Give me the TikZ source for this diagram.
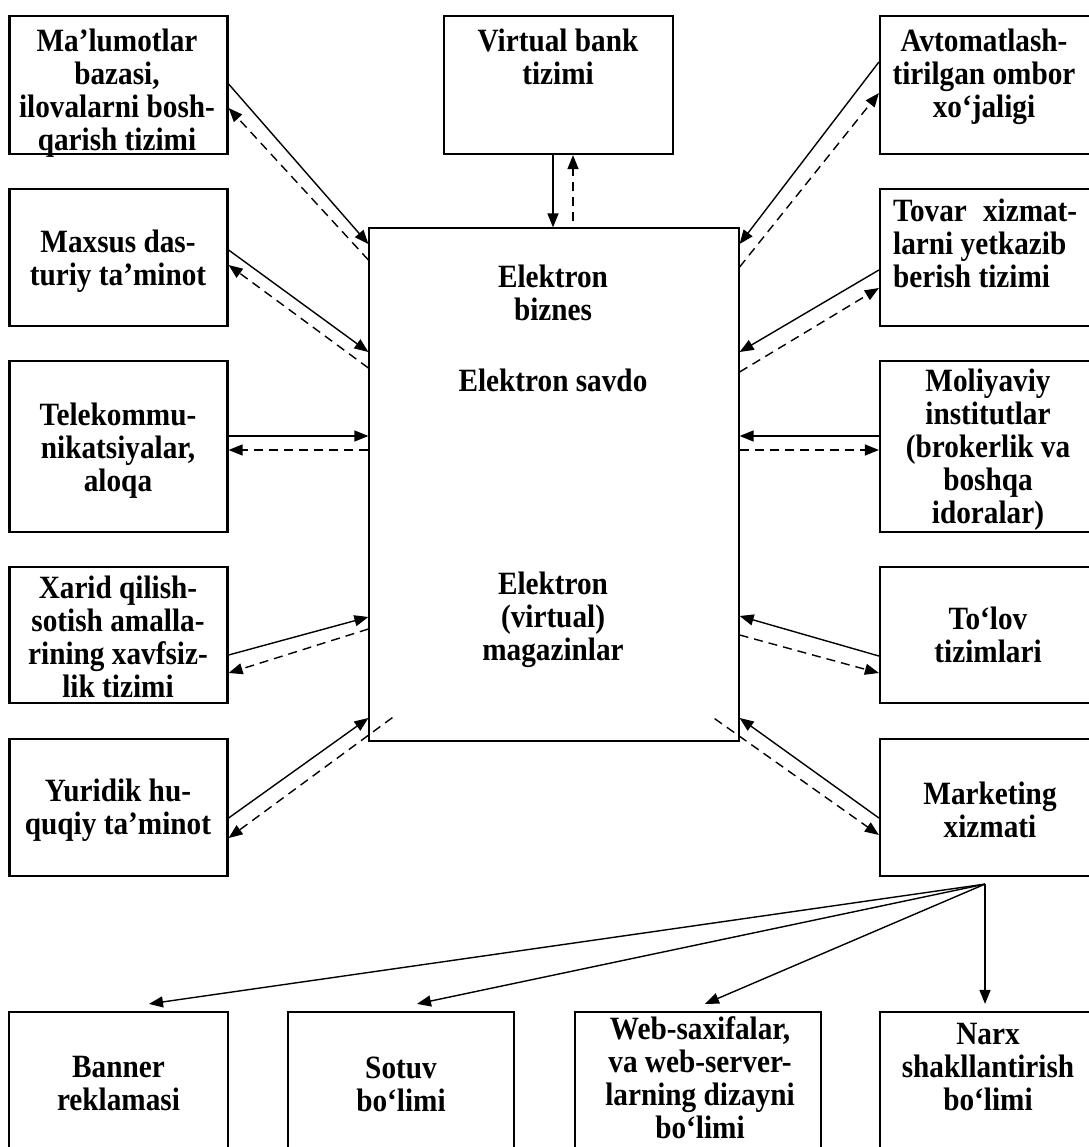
\documentclass[tikz,border=0pt]{standalone}
\usepackage{fontspec}
\setmainfont{Liberation Serif}[FakeStretch=0.9]
\usetikzlibrary{arrows.meta}

% box: name, centre x, centre y, width, height
\newcommand\mkbox[5]{\node[box, minimum width=#4pt, minimum height=#5pt] (#1) at (#2,#3) {};}

\begin{document}
\begin{tikzpicture}[x=1pt, y=-1pt,
  lbl/.style={font=\fontsize{32.5}{33}\selectfont\bfseries, align=center, inner sep=0pt},
  box/.style={draw, line width=2.2pt, inner sep=0pt},
  fwd/.style={line width=1.4pt, -{Triangle[length=14pt,width=11pt]}},
  back/.style={fwd, dash pattern=on 9pt off 6pt}]
\useasboundingbox (0,0) rectangle (1088,1147);

% left column
\mkbox{L1}{118.5}{85}{218}{138}
\mkbox{L2}{118.5}{257.5}{218}{137}
\mkbox{L3}{118.5}{446.5}{218}{171}
\mkbox{L4}{118.5}{635}{218}{136}
\mkbox{L5}{118.5}{807.5}{218}{137}
% right column
\mkbox{R1}{989}{85}{218}{138}
\mkbox{R2}{989}{257.5}{218}{137}
\mkbox{R3}{989}{446.5}{218}{171}
\mkbox{R4}{989}{635}{218}{136}
\mkbox{R5}{989}{807.5}{218}{137}
% top and centre
\mkbox{V}{558.5}{85}{229}{138}
\node[box, line width=1.2pt, minimum width=370pt, minimum height=513pt] (C) at (554,484.5) {};
% bottom row
\mkbox{B1}{118.5}{1084}{219}{144}
\mkbox{B2}{401}{1084}{226}{144}
\mkbox{B3}{698}{1084}{246}{144}
\mkbox{B4}{989}{1084}{218}{144}

% labels
\node[lbl] (tL1) at (117,93) {Ma’lumotlar\\bazasi,\\ilovalarni bosh-\\qarish tizimi};
\node[lbl] (tL2) at (118,261) {Maxsus das-\\turiy ta’minot};
\node[lbl] (tL3) at (118,451) {Telekommu-\\nikatsiyalar,\\aloqa};
\node[lbl] (tL4) at (118,637) {Xarid qilish-\\sotish amalla-\\rining xavfsiz-\\lik tizimi};
\node[lbl] (tL5) at (118,810) {Yuridik hu-\\quqiy ta’minot};
\node[lbl] (tV) at (558,57) {Virtual bank\\tizimi};
\node[lbl] (tC1) at (553,293) {Elektron\\biznes};
\node[lbl] (tC2) at (553,380) {Elektron savdo};
\node[lbl] (tC3) at (553,620) {Elektron\\(virtual)\\magazinlar};
\node[lbl] (tR1) at (984,77) {Avtomatlash-\\tirilgan ombor\\xo‘jaligi};
\node[lbl, align=left, anchor=west] (tR2) at (893,243) {\hbox to 184pt{Tovar\hfill xizmat-}\\larni yetkazib\\berish tizimi};
\node[lbl] (tR3) at (988,450) {Moliyaviy\\institutlar\\(brokerlik va\\boshqa\\idoralar)};
\node[lbl] (tR4) at (988,635) {To‘lov\\tizimlari};
\node[lbl] (tR5) at (990,810) {Marketing\\xizmati};
\node[lbl] (tB1) at (118.5,1084) {Banner\\reklamasi};
\node[lbl] (tB2) at (401,1084) {Sotuv\\bo‘limi};
\node[lbl] (tB3) at (700,1078) {Web-saxifalar,\\va web-server-\\larning dizayni\\bo‘limi};
\node[lbl] (tB4) at (988,1067) {Narx\\shakllantirish\\bo‘limi};

% left links
\draw[fwd]  ([yshift=1pt]L1.east) -- ([yshift=240.5pt]C.west);
\draw[back] ([yshift=224.5pt]C.west) -- ([yshift=-23pt]L1.east);
\draw[fwd]  ([yshift=7.5pt]L2.east) -- ([yshift=132.5pt]C.west);
\draw[back] ([yshift=116.5pt]C.west) -- ([yshift=-7.5pt]L2.east);
\draw[fwd]  ([yshift=10.5pt]L3.east) -- ([yshift=48.5pt]C.west);
\draw[back] ([yshift=34.5pt]C.west) -- ([yshift=-3.5pt]L3.east);
\draw[fwd]  ([yshift=-20pt]L4.east) -- ([yshift=-132.5pt]C.west);
\draw[back] ([yshift=-144.5pt]C.west) -- ([yshift=-38pt]L4.east);
\draw[fwd]  ([yshift=-10.5pt]L5.east) -- ([yshift=-233.5pt]C.west);
\draw[back] ([xshift=24pt,yshift=24pt]C.south west) -- ([yshift=-30.5pt]L5.east);

% right links
\draw[fwd]  ([yshift=23pt]R1.west) -- ([yshift=240.5pt]C.east);
\draw[back] ([yshift=217.5pt]C.east) -- ([yshift=-8pt]R1.west);
\draw[fwd]  ([yshift=-12.5pt]R2.west) -- ([yshift=132.5pt]C.east);
\draw[back] ([yshift=112.5pt]C.east) -- ([yshift=-30.5pt]R2.west);
\draw[fwd]  ([yshift=10.5pt]R3.west) -- ([yshift=48.5pt]C.east);
\draw[back] ([yshift=34.5pt]C.east) -- ([yshift=-3.5pt]R3.west);
\draw[fwd]  ([yshift=-21pt]R4.west) -- ([yshift=-131.5pt]C.east);
\draw[back] ([yshift=-150.5pt]C.east) -- ([yshift=-38pt]R4.west);
\draw[fwd]  ([yshift=-10.5pt]R5.west) -- ([yshift=-233.5pt]C.east);
\draw[back] ([xshift=-25pt,yshift=23pt]C.south east) -- ([yshift=-27.5pt]R5.west);

% top link
\draw[fwd]  ([xshift=-5.5pt]V.south) -- ([xshift=-1pt]C.north);
\draw[back] ([xshift=19pt,yshift=6pt]C.north) -- ([xshift=14.5pt]V.south);

% marketing fan-out
\coordinate (fan) at ([xshift=-4pt,yshift=-7pt]R5.south);
\draw[fwd] (fan) -- ([xshift=30.5pt,yshift=7pt]B1.north);
\draw[fwd] (fan) -- ([xshift=16pt,yshift=7pt]B2.north);
\draw[fwd] (fan) -- ([xshift=7pt,yshift=7pt]B3.north);
\draw[fwd] (fan) -- ([xshift=-4pt,yshift=7pt]B4.north);
\end{tikzpicture}
\end{document}
